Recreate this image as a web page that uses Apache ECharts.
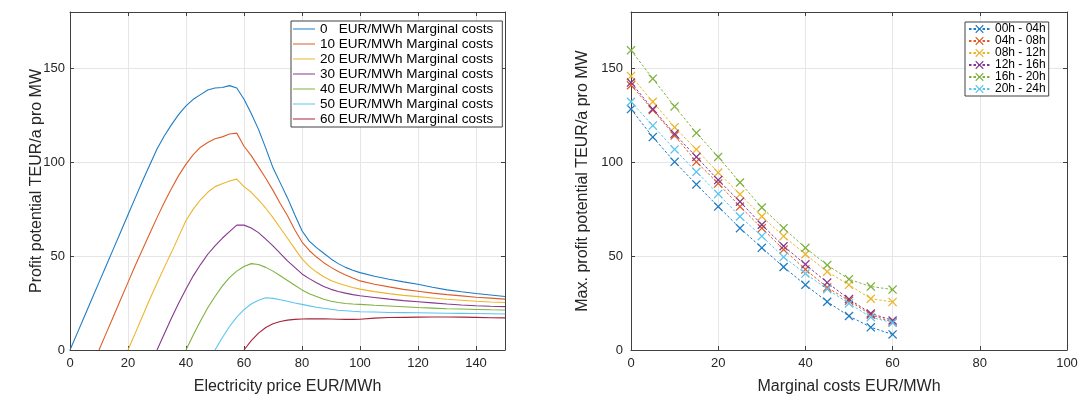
<!DOCTYPE html>
<html>
<head>
<meta charset="utf-8">
<script src="https://cdn.jsdelivr.net/npm/echarts@6/dist/echarts.min.js"></script>
<style>
  html, body { margin: 0; padding: 0; background: #fff; }
  #chart { width: 1083px; height: 400px; }
</style>
</head>
<body>
<div id="chart"></div>
<script>
// left panel: profit potential vs electricity price, one curve per marginal cost
const price = [0, 2.5, 5, 7.5, 10, 12.5, 15, 17.5, 20, 22.5, 25, 27.5, 30, 32.5, 35, 37.5, 40, 42.5, 45, 47.5,
  50, 52.5, 55, 57.5, 60, 62.5, 65, 67.5, 70, 72.5, 75, 77.5, 80, 82.5, 85, 87.5, 90, 92.5, 95, 97.5,
  100, 105, 110, 115, 120, 125, 130, 135, 140, 145, 150]
const curveNames = ['0   EUR/MWh Marginal costs', '10 EUR/MWh Marginal costs', '20 EUR/MWh Marginal costs',
  '30 EUR/MWh Marginal costs', '40 EUR/MWh Marginal costs', '50 EUR/MWh Marginal costs', '60 EUR/MWh Marginal costs']
const mc0 = [0, 9, 18, 27, 36, 45, 54, 63, 72, 81, 90, 98.5, 107, 114, 120, 125.5, 130, 133.5, 136, 138.5,
  139.5, 139.8, 140.8, 139.5, 133.5, 126, 117.5, 107.5, 97, 89, 81, 72, 63.5, 58, 54.5, 51.5, 48.5, 46, 44, 42.5,
  41.2, 39.3, 37.7, 36.3, 35, 33.4, 32, 31, 30.1, 29.3, 28.5]
const mc10 = [null, null, null, null, 0, 9, 18, 27, 36, 45, 53.5, 62, 70.5, 78.5, 86, 93, 99, 104, 108, 110.5,
  112.5, 113.5, 115, 115.5, 108.5, 103.5, 97.5, 91.5, 85, 78, 71.5, 64, 57.5, 53, 49.5, 46.5, 44, 41.8, 40, 38.3,
  36.8, 35, 33.6, 32.3, 31.3, 30.3, 29.5, 28.8, 28.1, 27.6, 27.1]
const mc20 = [null, null, null, null, null, null, null, null, 0, 9, 18, 27, 35.5, 44, 52, 60.5, 69, 75, 80, 84,
  87, 88.5, 90, 91, 87, 84, 80, 75.5, 70.5, 65, 59.5, 54, 48.5, 44.5, 41.5, 39, 37, 35.5, 34.3, 33.3,
  32.4, 31.1, 30, 29.1, 28.4, 27.7, 27, 26.5, 26, 25.6, 25.3]
const mc30 = [null, null, null, null, null, null, null, null, null, null, null, null, 0, 8.5, 17, 25, 32.5, 39.5, 45.5, 51,
  55.5, 59.5, 63, 66.5, 66.5, 65, 62.5, 59, 55.5, 51.5, 47.5, 44, 40.5, 38, 35.8, 33.8, 32.3, 31.2, 30.3, 29.5,
  28.9, 28, 27.1, 26.3, 25.7, 25.1, 24.5, 24, 23.6, 23.3, 23.1]
const mc40 = [null, null, null, null, null, null, null, null, null, null, null, null, null, null, null, null, 0, 8, 15.5, 22.5,
  28.5, 34, 38.5, 42, 44.5, 46, 45.5, 44, 42, 39.5, 37, 34.5, 32, 30, 28.5, 27, 26, 25.3, 24.8, 24.5,
  24.3, 23.8, 23.4, 23, 22.6, 22.3, 22, 21.8, 21.6, 21.4, 21.3]
const mc50 = [null, null, null, null, null, null, null, null, null, null, null, null, null, null, null, null, null, null, null, null,
  0, 6.5, 12.5, 17.5, 21.5, 24.5, 26.5, 27.8, 27.5, 26.8, 26, 25, 24.3, 23.5, 22.8, 22.2, 21.7, 21.2, 20.9, 20.6,
  20.4, 20.2, 20, 19.9, 19.8, 19.7, 19.6, 19.5, 19.4, 19.3, 19.2]
const mc60 = [null, null, null, null, null, null, null, null, null, null, null, null, null, null, null, null, null, null, null, null,
  null, null, null, null, 0, 5, 9, 12, 14, 15.2, 15.9, 16.3, 16.5, 16.6, 16.6, 16.6, 16.5, 16.4, 16.3, 16.3,
  16.4, 17, 17.3, 17.4, 17.5, 17.6, 17.6, 17.5, 17.4, 17.2, 17.1]

// right panel: max profit potential vs marginal costs, one series per time slot
const marginalCosts = [0, 5, 10, 15, 20, 25, 30, 35, 40, 45, 50, 55, 60]
const slotNames = ['00h - 04h', '04h - 08h', '08h - 12h', '12h - 16h', '16h - 20h', '20h - 24h']
const h00 = [128.3, 113.4, 100.2, 88.2, 76.4, 64.9, 54.4, 44.2, 34.7, 25.7, 18.1, 12.1, 8.3]
const h04 = [141, 127.8, 114.2, 100.2, 88.7, 76.4, 64.9, 53.5, 42.9, 33.3, 26.2, 18.8, 14.8]
const h08 = [145.9, 132.2, 118.6, 106.8, 94.5, 82.9, 71.1, 60.6, 51, 41.7, 34.7, 27.3, 25.6]
const h12 = [142.4, 128.3, 115.1, 102.8, 90.5, 79, 66.7, 55.3, 45.6, 35.9, 27.1, 19.5, 15.7]
const h16 = [159.6, 144.5, 129.7, 115.6, 102.8, 89.2, 75.9, 64.9, 54.4, 45.2, 37.7, 33.8, 32.2]
const h20 = [132.2, 119.5, 106.8, 94.9, 83.1, 71.1, 60.6, 49.5, 40.7, 32.4, 24.8, 17.5, 14.5]

const colors = ['#1f7cc4', '#dc5f2a', '#edb52e', '#85398f', '#7fb240', '#5cc4ef', '#a8243a']
const font = "'Liberation Sans', Arial, Helvetica, sans-serif"
const ink = '#262626'
const xMark = 'path://M0,1L1,0L5,4L9,0L10,1L6,5L10,9L9,10L5,6L1,10L0,9L4,5Z'
// thin line in the middle of the legend icon box (the stray points keep the box height)
const lineIcon = 'path://M0,0ZM0,6.4L22,6.4L22,7.6L0,7.6ZM0,14Z'

function pairs(xs, ys) {
  const out = []
  ys.forEach((y, i) => {
    if (y !== null) out.push([xs[i], y])
  })
  return out
}

function mainX(grid, max, name) {
  return {
    gridIndex: grid, type: 'value', min: 0, max: max, interval: 20,
    name: name, nameLocation: 'middle', nameGap: 29, nameMoveOverlap: false,
    nameTextStyle: { fontSize: 16, color: ink, fontFamily: font },
    axisLine: { onZero: false, lineStyle: { color: '#404040' } },
    axisTick: { inside: true, length: 4, lineStyle: { color: '#404040' } },
    axisLabel: { margin: 7, fontSize: 13, color: ink, fontFamily: font, showMaxLabel: max === 100 },
    splitLine: { lineStyle: { color: '#e6e6e6' } }
  }
}

function mainY(grid, name, gap, margin) {
  return {
    gridIndex: grid, type: 'value', min: 0, max: 180, interval: 50,
    name: name, nameLocation: 'middle', nameGap: gap, nameMoveOverlap: false,
    nameTextStyle: { fontSize: 16, color: ink, fontFamily: font },
    axisLine: { onZero: false, lineStyle: { color: '#404040' } },
    axisTick: { inside: true, length: 4, lineStyle: { color: '#404040' } },
    axisLabel: { margin: margin, fontSize: 13, color: ink, fontFamily: font, showMaxLabel: false },
    splitLine: { lineStyle: { color: '#e6e6e6' } }
  }
}

function boxAxis(grid, kind, max, interval) {
  return {
    gridIndex: grid, type: 'value', min: 0, max: max, interval: interval,
    position: kind === 'x' ? 'top' : 'right',
    axisLine: { show: true, onZero: false, lineStyle: { color: '#404040' } },
    axisTick: { inside: true, length: 4, lineStyle: { color: '#404040' } },
    axisLabel: { show: false },
    splitLine: { show: false }
  }
}

const leftData = [mc0, mc10, mc20, mc30, mc40, mc50, mc60]
const rightData = [h00, h04, h08, h12, h16, h20]

const series = []
leftData.forEach((ys, i) => {
  series.push({
    name: curveNames[i], type: 'line', xAxisIndex: 0, yAxisIndex: 0,
    data: pairs(price, ys), symbol: 'none', color: colors[i],
    lineStyle: { width: 1.1, color: colors[i] }
  })
})
rightData.forEach((ys, i) => {
  series.push({
    name: slotNames[i], type: 'line', xAxisIndex: 2, yAxisIndex: 2,
    data: pairs(marginalCosts, ys), symbol: xMark, symbolSize: 9, color: colors[i],
    itemStyle: { color: colors[i] },
    lineStyle: { width: 1, type: [2.5, 2], color: colors[i] }
  })
})

const chart = echarts.init(document.getElementById('chart'))
chart.setOption({
  animation: false,
  backgroundColor: '#fff',
  textStyle: { fontFamily: font },
  grid: [
    { left: 70, right: 578, top: 12, bottom: 47 },
    { left: 631, right: 16, top: 12, bottom: 47 }
  ],
  legend: [
    {
      data: curveNames, orient: 'vertical', left: 291, top: 21, icon: lineIcon,
      itemWidth: 22, itemHeight: 14, itemGap: 1, itemTextGap: 2,
      padding: [1, 9, 1, 2], borderColor: '#404040', borderWidth: 1, backgroundColor: '#fff',
      textStyle: { fontSize: 13.5, color: '#000', lineHeight: 14, fontFamily: font }
    },
    {
      data: slotNames, orient: 'vertical', left: 965, top: 22,
      itemWidth: 21, itemHeight: 10.5, itemGap: 0, itemTextGap: 2,
      padding: [1, 3, 1, 3], borderColor: '#404040', borderWidth: 1, backgroundColor: '#fff',
      textStyle: { fontSize: 12, color: '#000', lineHeight: 10.5, fontFamily: font }
    }
  ],
  xAxis: [
    mainX(0, 150, 'Electricity price EUR/MWh'),
    boxAxis(0, 'x', 150, 20),
    mainX(1, 100, 'Marginal costs EUR/MWh'),
    boxAxis(1, 'x', 100, 20)
  ],
  yAxis: [
    mainY(0, 'Profit potential TEUR/a pro MW', 25, 5),
    boxAxis(0, 'y', 180, 50),
    mainY(1, 'Max. profit potential TEUR/a pro MW', 40, 8),
    boxAxis(1, 'y', 180, 50)
  ],
  series: series
})
</script>
</body>
</html>
